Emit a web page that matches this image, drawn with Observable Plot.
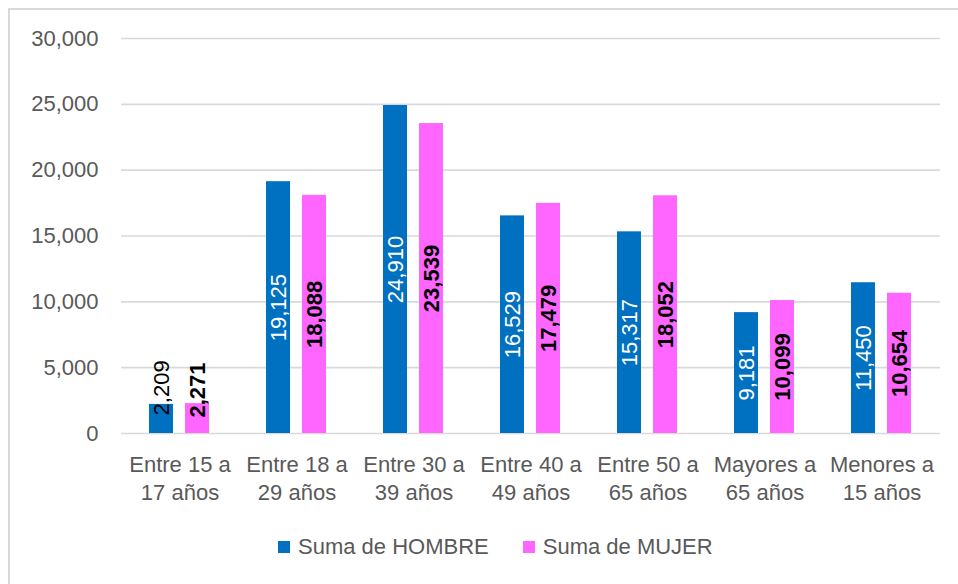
<!DOCTYPE html>
<html>
<head>
<meta charset="utf-8">
<script src="https://cdn.jsdelivr.net/npm/d3@7"></script>
<script src="https://cdn.jsdelivr.net/npm/@observablehq/plot@0.6"></script>
<style>
  html, body { margin: 0; padding: 0; background: #fff; overflow: hidden; width: 958px; height: 584px; }
  #frame { position: absolute; left: 8px; top: 8px; width: 2000px; height: 2000px;
           border-left: 2px solid #d9d9d9; border-top: 2px solid #d9d9d9; box-sizing: border-box; }
  #chart { position: absolute; left: 0; top: 0; }
  #legend { position: absolute; top: 534px; left: 278px; display: flex; align-items: center;
            font-family: "Liberation Sans", Arial, sans-serif; font-size: 22px; color: #595959; }
  .item { display: flex; align-items: center; margin-right: 34px; }
  .sw { width: 12px; height: 12px; margin-right: 8px; }
</style>
</head>
<body>
<div id="frame"></div>
<div id="chart"></div>
<div id="legend"></div>
<script>
const categories = ["Entre 15 a 17 años", "Entre 18 a 29 años", "Entre 30 a 39 años", "Entre 40 a 49 años", "Entre 50 a 65 años", "Mayores a 65 años", "Menores a 15 años"];
const hombre = [2209, 19125, 24910, 16529, 15317, 9181, 11450];
const mujer = [2271, 18088, 23539, 17479, 18052, 10099, 10654];
const series = ["Suma de HOMBRE", "Suma de MUJER"];
const colors = ["#0070C0", "#FF66FF"];
const yTicks = [0, 5000, 10000, 15000, 20000, 25000, 30000];

const data = [];
categories.forEach((c, i) => {
  data.push({cat: c, series: series[0], value: hombre[i]});
  data.push({cat: c, series: series[1], value: mujer[i]});
});
const fits = d => d.value >= 5000;
const fmt = d3.format(",");
const font = "'Liberation Sans', Arial, sans-serif";

const chart = Plot.plot({
  width: 958,
  height: 520,
  marginLeft: 120,
  marginRight: 17,
  marginTop: 38,
  marginBottom: 87,
  style: {fontFamily: font, fontSize: "22px", color: "#595959", background: "transparent", overflow: "visible"},
  fx: {domain: categories, padding: 0, label: null},
  x: {domain: series, paddingInner: 0.333, paddingOuter: 0.78, axis: null},
  y: {domain: [0, 30000], label: null},
  color: {domain: series, range: colors},
  marks: [
    Plot.gridY(yTicks, {stroke: "#d9d9d9", strokeOpacity: 1, strokeWidth: 1.6}),
    Plot.axisY(yTicks, {tickSize: 0, tickPadding: 23, tickFormat: fmt, fontSize: 22, fill: "#595959", label: null}),
    Plot.axisFx({anchor: "bottom", tickSize: 0, tickPadding: 18, fontSize: 22, fill: "#595959", lineHeight: 1.28, label: null,
      tickFormat: d => d.replace(/ (\d+ años)$/, "\n$1")}),
    Plot.barY(data, {fx: "cat", x: "series", y: "value", fill: "series"}),
    Plot.text(data.filter(d => d.series === series[0] && fits(d)), {
      fx: "cat", x: "series", y: d => d.value / 2, text: d => fmt(d.value),
      rotate: -90, fill: "white", fontSize: 22, textAnchor: "middle", lineAnchor: "middle"}),
    Plot.text(data.filter(d => d.series === series[1] && fits(d)), {
      fx: "cat", x: "series", y: d => d.value / 2, text: d => fmt(d.value),
      rotate: -90, fill: "black", fontWeight: "bold", fontSize: 22, textAnchor: "middle", lineAnchor: "middle"}),
    Plot.text(data.filter(d => d.series === series[0] && !fits(d)), {
      fx: "cat", x: "series", y: "value", text: d => fmt(d.value),
      rotate: -90, fill: "black", fontSize: 22, textAnchor: "start", lineAnchor: "middle", dy: 11}),
    Plot.text(data.filter(d => d.series === series[1] && !fits(d)), {
      fx: "cat", x: "series", y: "value", text: d => fmt(d.value),
      rotate: -90, fill: "black", fontWeight: "bold", fontSize: 22, textAnchor: "start", lineAnchor: "middle", dy: 14})
  ]
});
document.getElementById("chart").appendChild(chart);

const legend = document.getElementById("legend");
series.forEach((s, i) => {
  const item = document.createElement("div");
  item.className = "item";
  const sw = document.createElement("div");
  sw.className = "sw";
  sw.style.background = colors[i];
  const t = document.createElement("span");
  t.textContent = s;
  item.appendChild(sw);
  item.appendChild(t);
  legend.appendChild(item);
});
</script>
</body>
</html>
